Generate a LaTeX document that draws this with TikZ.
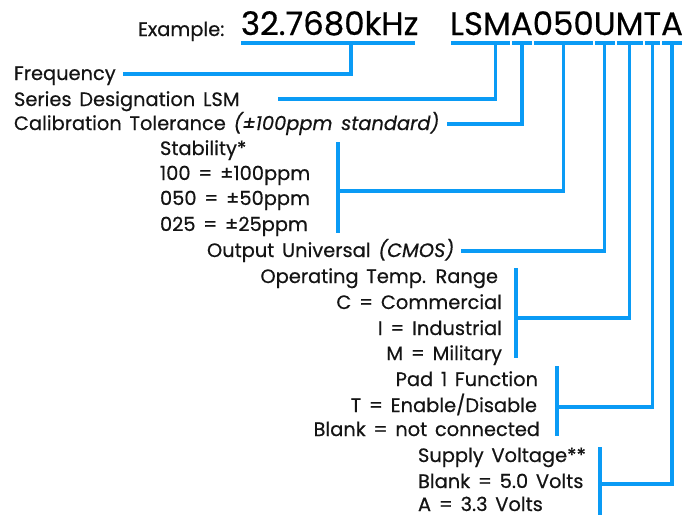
\documentclass[tikz,border=0pt]{standalone}
\usepackage{fontspec}
\setmainfont{Poppins}[WordSpace=1.5,FakeBold=0.5]
\usetikzlibrary{calc}
\definecolor{lsblue}{RGB}{10,155,245}
\definecolor{ink}{RGB}{20,20,20}
\begin{document}
\begin{tikzpicture}[x=1pt,y=-1pt,
  lbl/.style={inner sep=0pt,outer sep=0pt,font=\fontsize{19.4}{23}\selectfont,text=ink},
  big/.style={inner sep=0pt,outer sep=0pt,font=\fontsize{32.4}{38}\selectfont,text=black},
  conn/.style={draw=lsblue,line width=3.5pt},
  ul/.style={draw=lsblue,line width=3.3pt}]
\useasboundingbox (0,0) rectangle (688,515);

% header
\node[lbl,anchor=base west] (ex) at (138,36) {Example:};
\node[big,anchor=base west] (num) at (241,35) {32.7680kHz};
\node[big,anchor=base west] (s1) at (450,35) {LSM};
\node[big,anchor=base west] (s2) at (s1.base east) {A};
\node[big,anchor=base west] (s3) at (s2.base east) {050};
\node[big,anchor=base west] (s4) at (s3.base east) {U};
\node[big,anchor=base west] (s5) at (s4.base east) {M};
\node[big,anchor=base west] (s6) at (s5.base east) {T};
\node[big,anchor=base west] (s7) at (s6.base east) {A};

% underlines
\draw[ul] ($(num.base west)+(0,8)$) -- ($(num.base east)+(-3,8)$);
\foreach \s in {s1,s2,s3,s4,s5,s6,s7}{
  \draw[ul] ($(\s.base west)+(1,8)$) -- ($(\s.base east)+(-1,8)$);
}
\coordinate (tN) at ($(num.base west)!0.62!(num.base east)+(0,8)$);
\coordinate (t1) at ($(s1.base west)!0.75!(s1.base east)+(0,8)$);
\foreach \s in {2,...,7}{
  \coordinate (t\s) at ($(s\s.base west)!0.5!(s\s.base east)+(0,8)$);
}

% labels
\node[lbl,anchor=base west] (fq) at (14,80) {Frequency};
\node[lbl,anchor=base west] (sr) at (14,106) {Series Designation LSM};
\node[lbl,anchor=base west] (cal) at (14,130) {Calibration Tolerance \textit{(±100ppm standard)}};

\node[lbl,anchor=base west] (st0) at (160,155) {Stability*};
\node[lbl,anchor=base west] (st1) at (160,180) {100 = ±100ppm};
\node[lbl,anchor=base west] (st2) at (160,205) {050 = ±50ppm};
\node[lbl,anchor=base west] (st3) at (160,231) {025 = ±25ppm};

\node[lbl,anchor=base west] (out) at (207,257) {Output Universal \textit{(CMOS)}};

\node[lbl,anchor=base east] (op0) at (498,283) {Operating Temp. Range};
\node[lbl,anchor=base east] (op1) at (502,309) {C = Commercial};
\node[lbl,anchor=base east] (op2) at (502,335) {I = Industrial};
\node[lbl,anchor=base east] (op3) at (502,360) {M = Military};

\node[lbl,anchor=base east] (pd0) at (538,386) {Pad 1 Function};
\node[lbl,anchor=base east] (pd1) at (537,412) {T = Enable/Disable};
\node[lbl,anchor=base east] (pd2) at (540,436) {Blank = not connected};

\node[lbl,anchor=base west] (sv0) at (418,462) {Supply Voltage**};
\node[lbl,anchor=base west] (sv1) at (418,488) {Blank = 5.0 Volts};
\node[lbl,anchor=base west] (sv2) at (418,511) {A = 3.3 Volts};

% label line ends
\coordinate (fqE) at ($(fq.base east)+(7,-6)$);
\coordinate (srE) at ($(sr.base east)+(38,-7)$);
\coordinate (calE) at ($(cal.base east)+(8,-6)$);
\coordinate (outE) at ($(out.base east)+(7,-6)$);

% brackets
\coordinate (stA) at (338,142); \coordinate (stB) at (338,233); \coordinate (stM) at (338,191);
\coordinate (opA) at (516,268); \coordinate (opB) at (516,358); \coordinate (opM) at (516,318);
\coordinate (pdA) at (557,366); \coordinate (pdB) at (557,436); \coordinate (pdM) at (557,407);
\coordinate (svA) at (600,447); \coordinate (svB) at (600,515); \coordinate (svM) at (600,484);
\draw[conn] (stA) -- (stB);
\draw[conn] (opA) -- (opB);
\draw[conn] (pdA) -- (pdB);
\draw[conn] (svA) -- (svB);

% connectors
\draw[conn] (tN) |- (fqE);
\draw[conn] (t1) |- (srE);
\draw[conn] (t2) |- (calE);
\draw[conn] (t3) |- (stM);
\draw[conn] (t4) |- (outE);
\draw[conn] (t5) |- (opM);
\draw[conn] (t6) |- (pdM);
\draw[conn] (t7) |- (svM);
\end{tikzpicture}
\end{document}
